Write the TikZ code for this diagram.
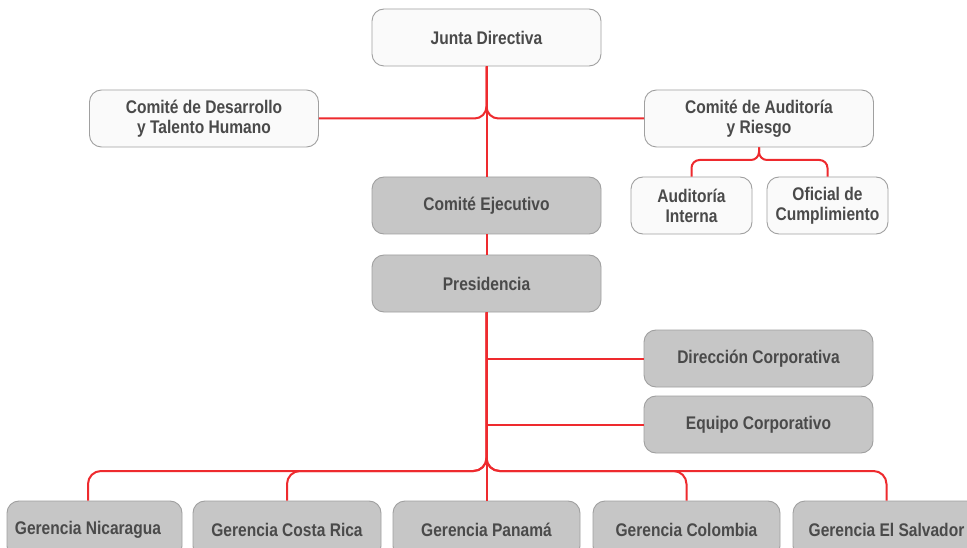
\documentclass[tikz,border=0pt]{standalone}
\usepackage{fontspec}
\setmainfont[FakeStretch=0.85]{Liberation Sans}
\definecolor{linered}{HTML}{EE2A2E}
\definecolor{boxgray}{HTML}{C6C6C6}
\definecolor{boxwhite}{HTML}{FAFAFA}
\definecolor{boxborder}{HTML}{A0A0A0}
\definecolor{txt}{HTML}{4A4A4A}
\tikzset{
  basebox/.style={draw=boxborder, line width=0.9pt, rounded corners=12pt, inner sep=0pt,
    text=txt, font=\fontsize{18.3}{20}\selectfont\bfseries, align=center},
  whitebox/.style={basebox, fill=boxwhite},
  graybox/.style={basebox, fill=boxgray},
  redline/.style={draw=linered, line width=2pt},
}
\begin{document}
\begin{tikzpicture}[x=1pt,y=-1pt]
\useasboundingbox (0,0) rectangle (967,548);
\clip (0,0) rectangle (967,548);
\fill[white] (0,0) rectangle (967,548);

\coordinate (topbr) at (486.5,118.5);
\coordinate (audbr) at (759,160);
\coordinate (botbr) at (486.5,471);

% nodes
\node[whitebox, minimum width=229pt, minimum height=57pt] (junta) at (486.5,37.5) {Junta Directiva};
\node[whitebox, minimum width=229pt, minimum height=57pt] (desarrollo) at (204,118.5) {Comité de Desarrollo\\y Talento Humano};
\node[whitebox, minimum width=229pt, minimum height=57pt] (auditoria) at (759,118.5) {Comité de Auditoría\\y Riesgo};
\node[whitebox, minimum width=121pt, minimum height=57pt] (interna) at (691.5,205.5) {Auditoría\\Interna};
\node[whitebox, minimum width=121pt, minimum height=57pt] (oficial) at (827.5,205.5) {Oficial de\\Cumplimiento};
\node[graybox, minimum width=229pt, minimum height=57pt] (ejecutivo) at (486.5,205.5) {Comité Ejecutivo};
\node[graybox, minimum width=229pt, minimum height=57pt] (presidencia) at (486.5,283.5) {Presidencia};
\node[graybox, minimum width=229pt, minimum height=57pt] (direccion) at (758.5,358.5) {Dirección Corporativa};
\node[graybox, minimum width=229pt, minimum height=57pt] (equipo) at (758.5,424.5) {Equipo Corporativo};
\node[graybox, minimum width=175pt, minimum height=57pt] (nicaragua) at (94.5,529.5) {Gerencia Nicaragua\hspace*{13pt}};
\node[graybox, minimum width=188pt, minimum height=57pt] (costarica) at (287,529.5) {Gerencia Costa Rica};
\node[graybox, minimum width=187pt, minimum height=57pt] (panama) at (486.5,529.5) {Gerencia Panamá};
\node[graybox, minimum width=187pt, minimum height=57pt] (colombia) at (686.5,529.5) {Gerencia Colombia};
\node[graybox, minimum width=187pt, minimum height=57pt] (salvador) at (886.5,529.5) {Gerencia El Salvador};

% connectors
\draw[redline] (junta.south) -- (ejecutivo.north);
\draw[redline, rounded corners=12pt] (junta.south) -- (topbr) -- (desarrollo.east);
\draw[redline, rounded corners=12pt] (junta.south) -- (topbr) -- (auditoria.west);
\draw[redline, rounded corners=8pt] (auditoria.south) -- (audbr) -- (interna.north |- audbr) -- (interna.north);
\draw[redline, rounded corners=8pt] (auditoria.south) -- (audbr) -- (oficial.north |- audbr) -- (oficial.north);
\draw[redline] (ejecutivo.south) -- (presidencia.north);
\draw[redline] (presidencia.south) -- (panama.north);
\draw[redline] (presidencia.south |- direccion.west) -- (direccion.west);
\draw[redline] (presidencia.south |- equipo.west) -- (equipo.west);
\draw[redline, rounded corners=13pt] (presidencia.south) -- (botbr) -- ([xshift=-6.5pt]nicaragua.north |- botbr) -- ([xshift=-6.5pt]nicaragua.north);
\draw[redline, rounded corners=13pt] (presidencia.south) -- (botbr) -- (costarica.north |- botbr) -- (costarica.north);
\draw[redline, rounded corners=13pt] (presidencia.south) -- (botbr) -- (colombia.north |- botbr) -- (colombia.north);
\draw[redline, rounded corners=13pt] (presidencia.south) -- (botbr) -- (salvador.north |- botbr) -- (salvador.north);
\end{tikzpicture}
\end{document}
